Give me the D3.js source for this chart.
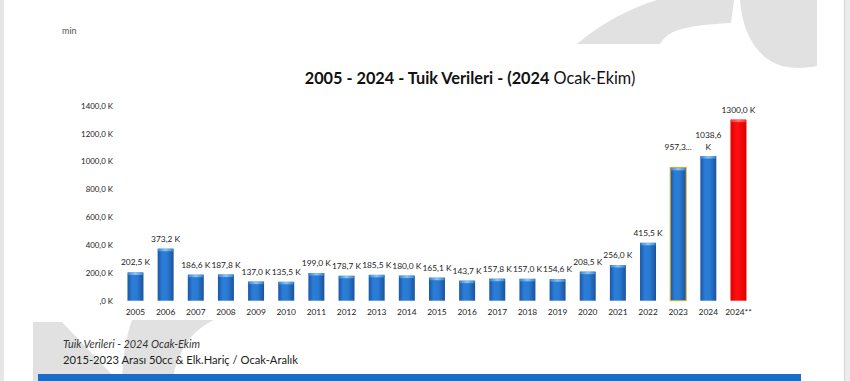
<!DOCTYPE html>
<html>
<head>
<meta charset="utf-8">
<script src="https://cdn.jsdelivr.net/npm/d3@7"></script>
<style>
  body { margin: 0; background: #fff; }
  svg { display: block; font-family: Lato, "Open Sans", sans-serif; }
</style>
</head>
<body>
<svg id="chart" width="850" height="381"></svg>
<script>
var years = ["2005","2006","2007","2008","2009","2010","2011","2012","2013","2014","2015",
             "2016","2017","2018","2019","2020","2021","2022","2023","2024","2024**"];
var sales = [202.5, 373.2, 186.6, 187.8, 137.0, 135.5, 199.0, 178.7, 185.5, 180.0, 165.1,
             143.7, 157.8, 157.0, 154.6, 208.5, 256.0, 415.5, 957.3, 1038.6, 1300.0];
var yTicks = [0, 200, 400, 600, 800, 1000, 1200, 1400];
var title = ["2005 - 2024 - Tuik Verileri - (2024", "Ocak-Ekim)"];
var notes = ["Tuik Verileri - 2024 Ocak-Ekim", "2015-2023 Arası 50cc & Elk.Hariç / Ocak-Aralık"];

var data = years.map(function(d, i) { return {year: d, value: sales[i]}; });

var svg = d3.select("#chart");

// grey logo watermark + frame
svg.append("rect").attr("x", 0).attr("y", 0).attr("width", 4).attr("height", 381).attr("fill", "#e6e6e6");
svg.append("rect").attr("x", 845).attr("y", 0).attr("width", 5).attr("height", 381).attr("fill", "#ececec");
svg.append("line").attr("x1", 844.5).attr("x2", 844.5).attr("y1", 0).attr("y2", 381).attr("stroke", "#d4d4d4");
var wm = svg.append("g").attr("fill", "#e1e1e1");
wm.append("path").attr("d", "M577,44 C600,24 630,8 657,0 L734,0 L731,23 C705,24 684,27 673,32 C667,35 663,39 660,44 Z");
wm.append("path").attr("d", "M740,0 C742,30 755,58 782,66 C795,69 808,68 817,66 L817,0 Z");
wm.append("path").attr("d", "M33,322 L62,322 L118,381 L33,381 Z");
wm.append("path").attr("d", "M132,320 L214,320 C192,330 178,350 172,381 L122,381 C123,357 126,336 132,320 Z");

var margin = {top: 105.7, left: 127}, height = 195;

var x = d3.scaleBand()
  .domain(years)
  .range([120.4, 120.4 + 30.15 * years.length])
  .paddingInner(0.47)
  .paddingOuter(0.235);
var y = d3.scaleLinear()
  .domain([0, 1400])
  .range([margin.top + height, margin.top]);

var defs = svg.append("defs");
function grad(id, stops) {
  var g = defs.append("linearGradient").attr("id", id).attr("x1", "0").attr("x2", "1").attr("y1", "0").attr("y2", "0");
  stops.forEach(function(s) { g.append("stop").attr("offset", s[0]).attr("stop-color", s[1]); });
}
grad("blueBar", [["0", "#1a56a6"], ["0.3", "#2b7ed8"], ["0.6", "#2a7ad2"], ["1", "#1a529c"]]);
grad("redBar", [["0", "#e00000"], ["0.4", "#ff1010"], ["1", "#e00000"]]);
grad("blueCap", [["0", "#3d86d0"], ["0.5", "#8cc6f2"], ["1", "#3d86d0"]]);
grad("redCap", [["0", "#ff3030"], ["0.5", "#ff7070"], ["1", "#ff3030"]]);

// y axis labels
var fmt = function(v) { return d3.format(".1f")(v).replace(".", ","); };
svg.append("g")
  .attr("transform", "translate(113,0)")
  .call(d3.axisLeft(y).tickValues(yTicks).tickSize(0).tickPadding(0)
    .tickFormat(function(d) { return d === 0 ? ",0 K" : fmt(d) + " K"; }))
  .call(function(g) { g.select(".domain").remove(); })
  .selectAll("text")
  .attr("font-family", "Lato, sans-serif")
  .attr("font-size", 7.9)
  .attr("fill", "#222");

// x axis labels
svg.append("g")
  .attr("transform", "translate(0," + (margin.top + height) + ")")
  .call(d3.axisBottom(x).tickSize(0).tickPadding(8))
  .call(function(g) { g.select(".domain").remove(); })
  .selectAll("text")
  .attr("font-family", "Lato, sans-serif")
  .attr("font-size", 8.4)
  .attr("fill", "#222");

// bars
var bars = svg.append("g").selectAll("g.bar").data(data).enter().append("g").attr("class", "bar");
bars.append("rect")
  .attr("x", function(d) { return x(d.year); })
  .attr("y", function(d) { return y(d.value); })
  .attr("width", x.bandwidth())
  .attr("height", function(d) { return y(0) - y(d.value); })
  .attr("fill", function(d) { return d.year === "2024**" ? "url(#redBar)" : "url(#blueBar)"; })
  .attr("stroke", function(d) { return d.year === "2023" ? "#e6b21c" : "none"; })
  .attr("stroke-width", 1);
bars.append("rect")
  .attr("x", function(d) { return x(d.year) + 0.5; })
  .attr("y", function(d) { return y(d.value) + (d.year === "2023" ? 0.5 : 0); })
  .attr("width", x.bandwidth() - 1)
  .attr("height", 2.5)
  .attr("fill", function(d) { return d.year === "2024**" ? "url(#redCap)" : "url(#blueCap)"; });

// value labels
var labels = svg.append("g")
  .attr("font-family", "Lato, sans-serif")
  .attr("font-size", 8.4)
  .attr("fill", "#222")
  .attr("text-anchor", "middle");
data.forEach(function(d) {
  var cx = x(d.year) + x.bandwidth() / 2, top = y(d.value);
  var t = labels.append("text").attr("x", cx);
  if (d.year === "2023") {
    t.attr("y", top - 17).text(fmt(d.value).slice(0, 5) + "...");
  } else if (d.year === "2024") {
    t.attr("y", top - 18).text(fmt(d.value));
    labels.append("text").attr("x", cx).attr("y", top - 6).text("K");
  } else {
    t.attr("y", top - 7).text(fmt(d.value) + " K");
  }
});

// title
var tt = svg.append("text")
  .attr("x", 470).attr("y", 84)
  .attr("text-anchor", "middle")
  .attr("font-family", "Lato, sans-serif")
  .attr("font-size", 16.3)
  .attr("fill", "#111");
tt.append("tspan").attr("font-weight", "bold").text(title[0]);
tt.append("tspan").text(" " + title[1]);

// top-left fragment
svg.append("text").attr("x", 62).attr("y", 34).attr("font-size", 9).attr("fill", "#555").text("min");

// footnotes
svg.append("text").attr("x", 63).attr("y", 348).attr("font-size", 10.8).attr("font-style", "italic").attr("fill", "#333").text(notes[0]);
svg.append("text").attr("x", 63).attr("y", 364).attr("font-size", 11.2).attr("fill", "#222").text(notes[1]);

svg.append("rect").attr("x", 38).attr("y", 374).attr("width", 763).attr("height", 7).attr("fill", "#1b6cc6");
</script>
</body>
</html>
